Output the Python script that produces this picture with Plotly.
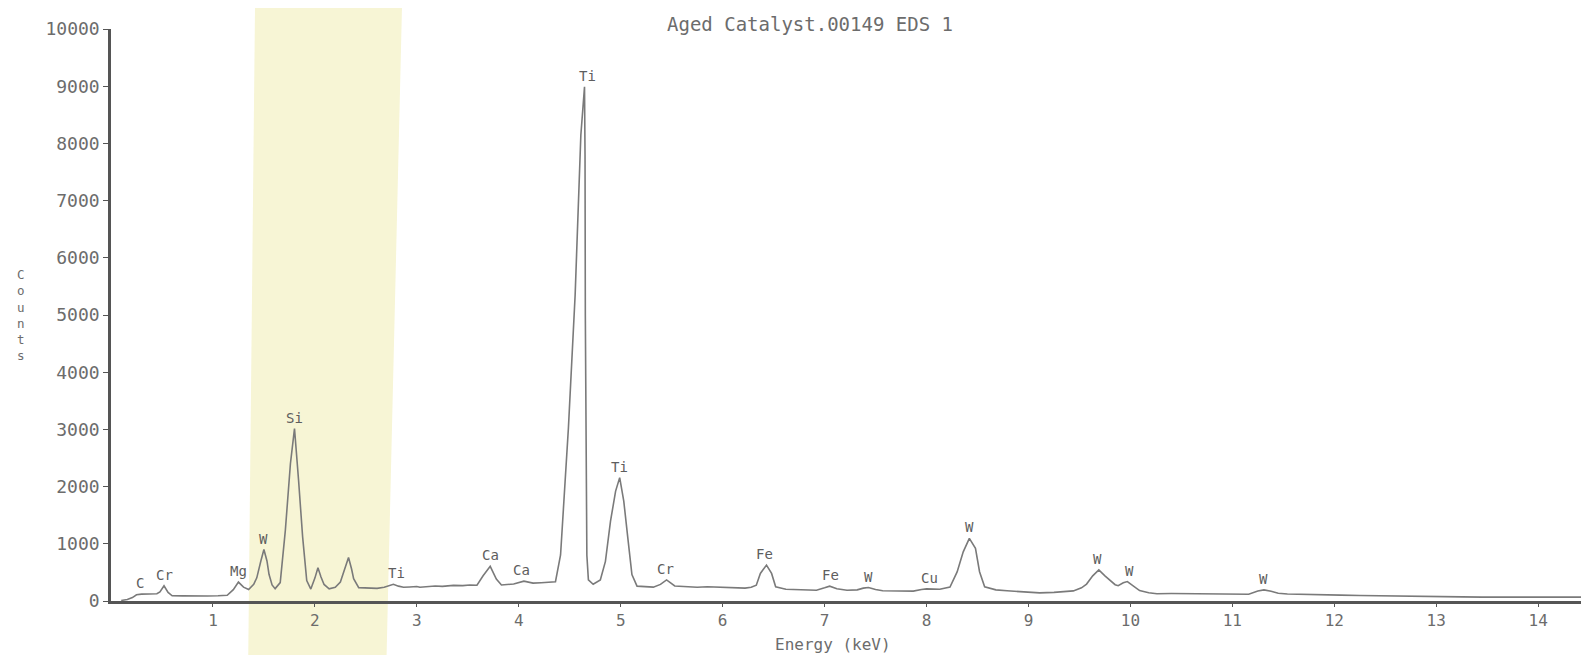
import numpy as np
import plotly.graph_objects as go

# ---- data ----
energy_kev = [0.10, 0.16, 0.21, 0.25, 0.30, 0.35, 0.40, 0.45, 0.48, 0.52, 0.56, 0.60, 0.70, 0.80, 0.88, 0.95,
              1.05, 1.14, 1.20, 1.25, 1.30, 1.35, 1.40, 1.43, 1.47, 1.50, 1.53, 1.55, 1.58, 1.61, 1.66, 1.71,
              1.76, 1.80, 1.84, 1.88, 1.92, 1.96, 2.00, 2.03, 2.06, 2.09, 2.14, 2.20, 2.25, 2.29, 2.33, 2.36,
              2.38, 2.43, 2.50, 2.55, 2.61, 2.68, 2.73, 2.77, 2.82, 2.87, 2.93, 3.00, 3.03, 3.10, 3.18, 3.25,
              3.36, 3.45, 3.52, 3.59, 3.65, 3.72, 3.78, 3.83, 3.90, 3.95, 4.05, 4.14, 4.22, 4.30, 4.36, 4.41,
              4.445, 4.487, 4.553, 4.576, 4.609, 4.645, 4.650, 4.653, 4.657, 4.662, 4.668, 4.683, 4.73, 4.80,
              4.85, 4.90, 4.95, 4.99, 5.03, 5.07, 5.11, 5.16, 5.24, 5.32, 5.39, 5.45, 5.53, 5.65, 5.75, 5.85,
              5.97, 6.06, 6.14, 6.22, 6.28, 6.33, 6.37, 6.43, 6.48, 6.52, 6.62, 6.72, 6.82, 6.92, 7.00, 7.05,
              7.12, 7.22, 7.32, 7.38, 7.43, 7.50, 7.57, 7.70, 7.87, 7.95, 8.00, 8.07, 8.13, 8.23, 8.30, 8.36,
              8.42, 8.48, 8.52, 8.57, 8.68, 8.79, 8.95, 9.11, 9.25, 9.35, 9.44, 9.52, 9.57, 9.63, 9.69, 9.75,
              9.80, 9.85, 9.88, 9.93, 9.97, 10.02, 10.09, 10.18, 10.26, 10.40, 10.55, 10.70, 10.85, 11.00,
              11.16, 11.25, 11.31, 11.38, 11.45, 11.54, 11.70, 11.85, 12.06, 12.25, 12.40, 12.58, 12.80,
              13.03, 13.25, 13.45, 13.62, 13.85, 14.05, 14.25, 14.42]
counts = [10, 25, 60, 109, 120, 126, 122, 128, 160, 267, 150, 91, 90, 85, 89, 88,
          92, 100, 198, 330, 242, 200, 290, 405, 700, 900, 700, 467, 280, 216, 321, 1230,
          2400, 3015, 2110, 1116, 356, 209, 400, 581, 420, 289, 212, 240, 330, 550, 760, 560,
          391, 233, 225, 215, 221, 240, 270, 293, 260, 240, 245, 253, 240, 250, 262, 255,
          274, 268, 280, 276, 440, 605, 384, 279, 290, 298, 347, 312, 320, 328, 337, 804,
          1853, 3024, 5349, 6630, 8146, 8990, 7800, 5000, 3000, 1850, 800, 370, 293, 368,
          693, 1395, 1922, 2157, 1747, 1100, 461, 260, 250, 242, 290, 368, 263, 249, 240, 248,
          244, 238, 233, 225, 240, 277, 482, 628, 482, 249, 205, 198, 192, 188, 230, 260,
          215, 189, 195, 225, 235, 200, 179, 175, 172, 200, 212, 208, 205, 245, 508, 859,
          1096, 921, 512, 249, 195, 179, 160, 142, 150, 160, 177, 230, 296, 440, 544, 440,
          356, 285, 268, 320, 340, 280, 182, 145, 128, 130, 128, 125, 130, 122,
          118, 175, 195, 170, 135, 123, 120, 112, 102, 95, 90, 81, 75,
          70, 72, 68, 67, 65, 66, 64, 67]

peak_labels = ["C", "Cr", "Mg", "W", "Si", "Ti", "Ca", "Ca", "Ti", "Ti", "Cr", "Fe", "Fe", "W", "Cu",
               "W", "W", "W", "W"]
peak_label_kev = [0.28, 0.52, 1.25, 1.50, 1.80, 2.80, 3.72, 4.03, 4.67, 4.99, 5.44, 6.41, 7.06, 7.43,
                  8.03, 8.42, 9.68, 9.99, 11.31]

x_ticks = list(range(1, 15))
y_ticks = list(range(0, 10001, 1000))

title_text = "Aged Catalyst.00149 EDS 1"
x_title = "Energy (keV)"
y_title = "Counts"

# ---- figure ----
FONT = "DejaVu Sans Mono"
TXT = "#6c6c6c"

fig = go.Figure()
fig.add_trace(go.Scatter(x=energy_kev, y=counts, mode="lines",
                         line=dict(color="#7a7a7a", width=1.6), showlegend=False,
                         hoverinfo="x+y"))

# highlighted band
fig.add_shape(type="path", xref="x", yref="paper", layer="below",
              path="M 1.345,-0.12 L 2.70,-0.12 L 2.86,1.08 L 1.415,1.08 Z",
              fillcolor="#f7f5d5", line=dict(width=0))

e = np.array(energy_kev)
c = np.array(counts)
for lab, ek in zip(peak_labels, peak_label_kev):
    m = (e >= ek - 0.05) & (e <= ek + 0.05)
    ytop = c[m].max() if m.any() else np.interp(ek, e, c)
    fig.add_annotation(x=ek, y=ytop, text=lab, showarrow=False, xanchor="center",
                       yanchor="bottom", yshift=1,
                       font=dict(family=FONT, size=14, color="#5e5e5e"))

fig.add_annotation(xref="paper", yref="paper", x=0.4755, y=1.009, text=title_text,
                   showarrow=False, xanchor="center", yanchor="middle",
                   font=dict(family=FONT, size=19, color=TXT))
fig.add_annotation(xref="paper", yref="paper", x=0.491, y=-0.076, text=x_title,
                   showarrow=False, xanchor="center", yanchor="middle",
                   font=dict(family=FONT, size=16, color=TXT))
fig.add_annotation(xref="paper", yref="paper", x=-0.0612, y=0.50,
                   text="<br>".join(list(y_title)),
                   showarrow=False, xanchor="center", yanchor="middle",
                   font=dict(family=FONT, size=12.5, color=TXT))

fig.update_xaxes(range=[0, 14.42], tickvals=x_ticks, ticktext=[str(t) for t in x_ticks],
                 showline=True, linecolor="#555555", linewidth=2.5, ticks="outside",
                 ticklen=3, tickcolor="#555555", showgrid=False, zeroline=False,
                 tickfont=dict(family=FONT, size=16, color=TXT), automargin=False)
fig.update_yaxes(range=[0, 10000], tickvals=y_ticks, ticktext=[str(t) for t in y_ticks],
                 showline=True, linecolor="#555555", linewidth=2.5, ticks="outside",
                 ticklen=5, tickcolor="#555555", showgrid=False, zeroline=False,
                 tickfont=dict(family=FONT, size=18, color=TXT), automargin=False)

# page body has an 8px margin, so the figure is sized to fit the 1595x655 window
fig.update_layout(width=1587, height=647, margin=dict(l=103, r=14, t=21, b=54),
                  paper_bgcolor="white", plot_bgcolor="rgba(0,0,0,0)", showlegend=False)

fig.write_html("out.html")
